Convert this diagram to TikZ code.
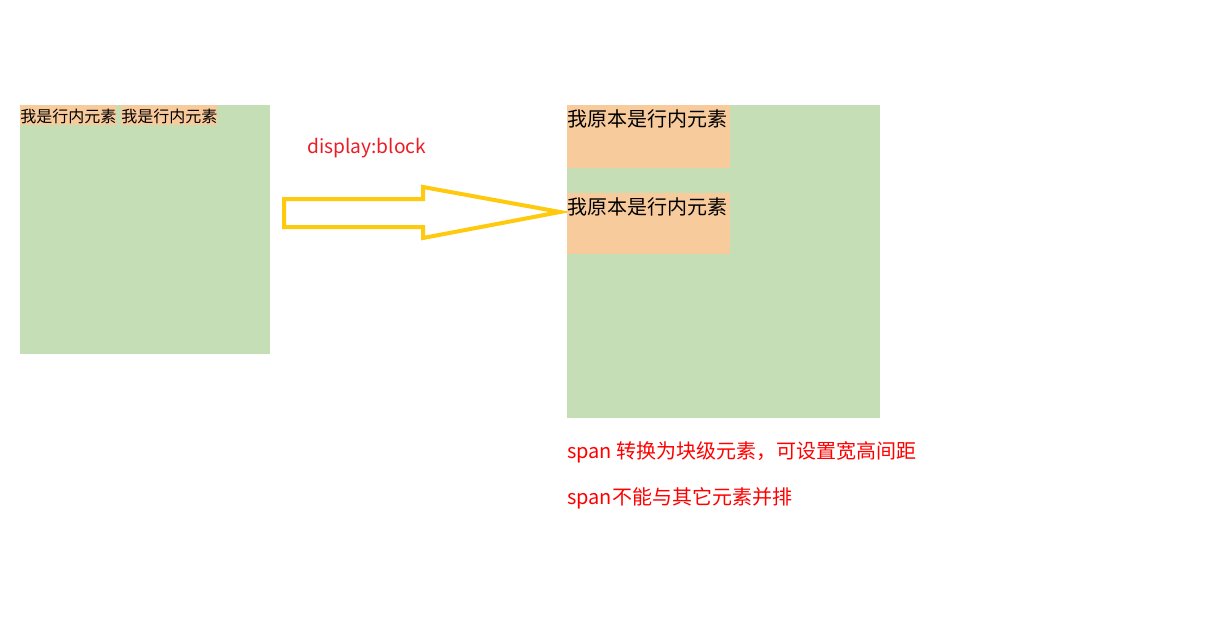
\documentclass[tikz,border=0pt]{standalone}
\usepackage{fontspec}
\setmainfont{Noto Sans CJK SC}
\definecolor{boxgreen}{RGB}{197,222,181}
\definecolor{spanorange}{RGB}{248,203,157}
\definecolor{arrowyellow}{RGB}{255,201,14}
\definecolor{labelred}{RGB}{236,28,36}
\definecolor{notered}{RGB}{255,0,0}
\tikzset{
  container/.style={fill=boxgreen,draw=none},
  spanbg/.style={fill=spanorange,draw=none},
  smalltxt/.style={inner sep=0pt,anchor=base west,font=\fontsize{12pt}{14pt}\selectfont,text=black},
  bigtxt/.style={inner sep=0pt,anchor=base west,font=\fontsize{15pt}{18pt}\selectfont,text=black},
  redtxt/.style={inner sep=0pt,anchor=base west,font=\fontsize{15pt}{18pt}\selectfont},
  bigarrow/.style={draw=arrowyellow,line width=3pt,line join=miter,fill=none}
}
\begin{document}
\begin{tikzpicture}[x=0.75pt,y=-0.75pt]
\useasboundingbox (0,0) rectangle (1205,639);
% left container
\fill[container] (20,105) rectangle (270,354);
\fill[spanbg] (20,105) rectangle (116,125);
\fill[spanbg] (121,105) rectangle (217,125);
\node[smalltxt] (l1) at (20,122) {我是行内元素};
\node[smalltxt] (l2) at (121,122) {我是行内元素};
% label
\node[redtxt,text=labelred,font=\fontsize{14.4pt}{17pt}\selectfont] (lab) at (307,153) {display:block};
% arrow
\draw[bigarrow] (284,199) -- (423,199) -- (423,187) -- (560,212) -- (423,238) -- (423,227) -- (284,227) -- cycle;
% right container
\fill[container] (567,105) rectangle (880,418);
\fill[spanbg] (567,105) rectangle (730,168);
\fill[spanbg] (567,193) rectangle (730,254);
\node[bigtxt] (r1) at (567,126) {我原本是行内元素};
\node[bigtxt] (r2) at (567,214) {我原本是行内元素};
% notes
\node[redtxt,text=notered] (n1) at (567,458) {span 转换为块级元素，可设置宽高间距};
\node[redtxt,text=notered] (n2) at (567,504) {span不能与其它元素并排};
\end{tikzpicture}
\end{document}
